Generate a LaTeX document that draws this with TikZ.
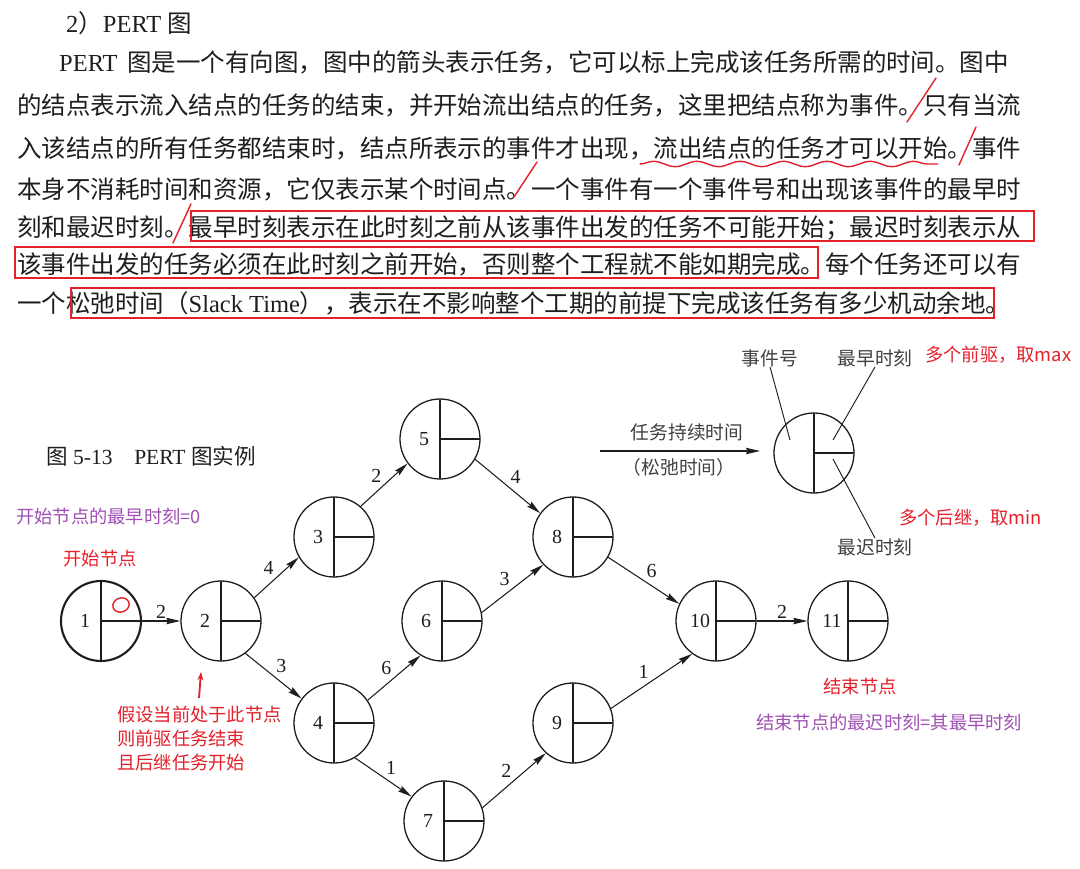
\documentclass[tikz,border=0pt]{standalone}
\usepackage{fontspec}
\setmainfont{Liberation Serif}
\newfontfamily\cjk{Noto Sans CJK SC}
\usetikzlibrary{arrows.meta,decorations.pathmorphing}
\definecolor{ink}{RGB}{30,30,30}
\definecolor{markred}{RGB}{228,32,42}
\definecolor{notepurple}{RGB}{160,80,180}

\begin{document}
\begin{tikzpicture}[
x=0.03cm, y=-0.03cm,
textline/.style={anchor=base west, inner sep=0pt, text=ink, font=\fontsize{20.9}{25}\selectfont},
event/.style={
circle,
draw=ink,
line width=1.1pt,
minimum size=2.4cm,
inner sep=0pt,
path picture={\draw (path picture bounding box.north) -- (path picture bounding box.south)
(path picture bounding box.center) -- (path picture bounding box.east);}
},
startevent/.style={event, line width=1.8pt},
num/.style={xshift=-0.48cm, inner sep=0pt, text=ink, font=\fontsize{17}{17}\selectfont},
task/.style={-{Stealth[length=12pt,width=5.5pt,inset=1.5pt]}, line width=0.9pt, draw=ink},
weight/.style={inner sep=2pt, text=ink, font=\fontsize{17}{17}\selectfont},
legendtext/.style={inner sep=0pt, text=ink!85, font=\cjk\fontsize{16}{16}\selectfont},
leader/.style={draw=ink, line width=0.8pt},
redbox/.style={draw=markred, line width=1.3pt},
redmark/.style={draw=markred, line width=1.2pt, line cap=round},
rednote/.style={inner sep=0pt, text=markred, font=\cjk\fontsize{15.6}{20.5}\selectfont},
purplenote/.style={inner sep=0pt, text=notepurple, font=\cjk\fontsize{15.6}{20.5}\selectfont}
]

\fill[white] (0,0) rectangle (1080,869);
\useasboundingbox (0,0) rectangle (1080,869);

\node[textline] (title) at (66,32) {2{\cjk ）}PERT {\cjk 图}};
\node[textline] (row1) at (59,71) {PERT\hspace{0.4em}{\cjk 图是一个有向图，图中的箭头表示任务，它可以标上完成该任务所需的时间。图中}};
\node[textline] (row2) at (17,114) {\cjk 的结点表示流入结点的任务的结束，并开始流出结点的任务，这里把结点称为事件。只有当流};
\node[textline] (row3) at (17,157) {\cjk 入该结点的所有任务都结束时，结点所表示的事件才出现，流出结点的任务才可以开始。事件};
\node[textline] (row4) at (17,198) {\cjk 本身不消耗时间和资源，它仅表示某个时间点。一个事件有一个事件号和出现该事件的最早时};
\node[textline] (row5) at (17,236) {\cjk 刻和最迟时刻。最早时刻表示在此时刻之前从该事件出发的任务不可能开始；最迟时刻表示从};
\node[textline] (row6) at (17,273) {\cjk 该事件出发的任务必须在此时刻之前开始，否则整个工程就不能如期完成。每个任务还可以有};
\node[textline] (row7) at (17,312) {{\cjk 一个松弛时间（}Slack Time{\cjk ），表示在不影响整个工期的前提下完成该任务有多少机动余地。}};

\draw[redbox] (191,211) rectangle (1034,241);
\draw[redbox] (15,247) rectangle (818,278);
\draw[redbox] (71,288) rectangle (994,318);

\draw[redmark] (936,78) -- (907,122);
\draw[redmark] (976,127) -- (959,165);
\draw[redmark] (537,162) -- (514,197);
\draw[redmark] (191,204) -- (173,243);
\draw[redmark, decorate, decoration={snake, amplitude=0.08cm, segment length=1.3cm}] (640,164) -- (938,164);

\node[inner sep=0pt, text=ink, font=\fontsize{18.4}{18.4}\selectfont, anchor=west] (caption) at (46,456) {{\cjk 图} 5-13\hspace{1em}PERT {\cjk 图实例}};

\node[startevent, label={[num]center:1}] (e1) at (101,621) {};
\node[event, label={[num]center:2}] (e2) at (221,621) {};
\node[event, label={[num]center:3}] (e3) at (334,537) {};
\node[event, label={[num]center:4}] (e4) at (334,723) {};
\node[event, label={[num]center:5}] (e5) at (440,439) {};
\node[event, label={[num]center:6}] (e6) at (442,621) {};
\node[event, label={[num]center:7}] (e7) at (444,821) {};
\node[event, label={[num]center:8}] (e8) at (573,537) {};
\node[event, label={[num]center:9}] (e9) at (573,723) {};
\node[event, label={[num]center:10}] (e10) at (716,621) {};
\node[event, label={[num]center:11}] (e11) at (848,621) {};

\draw[task] (e1.east) -- node[weight, above] (w12) {2} (e2.west);
\draw[task] (e2.35) -- node[weight, above left] (w23) {4} (e3.210);
\draw[task] (e2.307) -- node[weight, above right] (w24) {3} (e4.143);
\draw[task] (e3.49) -- node[weight, above left] (w35) {2} (e5.217);
\draw[task] (e5.330) -- node[weight, above right] (w58) {4} (e8.144);
\draw[task] (e4.34) -- node[weight, above left] (w46) {6} (e6.238);
\draw[task] (e4.301) -- node[weight, above right] (w47) {1} (e7.143);
\draw[task] (e6.12) -- node[weight, above left] (w68) {3} (e8.223);
\draw[task] (e7.19) -- node[weight, above left] (w79) {2} (e9.228);
\draw[task] (e8.330) -- node[weight, above right] (w810) {6} (e10.155);
\draw[task] (e9.21) -- node[weight, above left] (w910) {1} (e10.234);
\draw[task] (e10.east) -- node[weight, above] (w1011) {2} (e11.west);

\draw[markred, line width=1.2pt] (121,605) ellipse [x radius=0.25cm, y radius=0.21cm, rotate=20];

\node[event] (leg) at (814,453) {};
\coordinate (durL) at (600,451);
\coordinate (durR) at (760,451);
\draw[task] (durL) -- (durR);
\node[legendtext] (dur) at (687,432) {任务持续时间};
\node[legendtext] (slack) at (679,467) {（松弛时间）};
\node[legendtext] (lEvt) at (770,358) {事件号};
\node[legendtext] (lEarly) at (875,358) {最早时刻};
\node[legendtext] (lLate) at (875,547) {最迟时刻};
\draw[leader] (lEvt.south) -- ([shift={(-24,-13)}]leg.center);
\draw[leader] (lEarly.south) -- ([shift={(19,-13)}]leg.center);
\draw[leader] ([shift={(19,6)}]leg.center) -- (lLate.north);

\node[rednote, anchor=west] (maxnote) at (925,355) {多个前驱，取max};
\node[rednote, anchor=west] (minnote) at (899,518) {多个后继，取min};

\node[purplenote, anchor=west] (startrule) at (16,517) {开始节点的最早时刻=0};
\node[rednote] (startlbl) at (100,559) {开始节点};
\node[rednote, anchor=west, align=left] (hint) at (117,739) {假设当前处于此节点\\则前驱任务结束\\且后继任务开始};
\coordinate (hintTail) at (199,698);
\coordinate (hintHead) at (201,672);
\draw[markred, line width=1.6pt, -{Stealth[length=7pt,width=5pt]}] (hintTail) -- (hintHead);

\node[rednote] (endlbl) at (860,687) {结束节点};
\node[purplenote, anchor=west] (endrule) at (756,723) {结束节点的最迟时刻=其最早时刻};

\end{tikzpicture}
\end{document}
